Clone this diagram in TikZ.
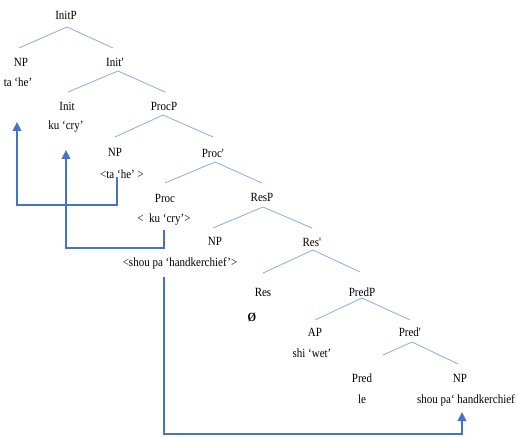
\documentclass[tikz,border=0pt]{standalone}
\usepackage{fontspec}
\setmainfont{Liberation Serif}[FakeStretch=0.88]
\usetikzlibrary{calc,arrows.meta}
\definecolor{branchblue}{HTML}{8FAADC}
\definecolor{moveblue}{HTML}{4472C4}
\begin{document}
\begin{tikzpicture}[x=1pt,y=-1pt,
  lbl/.style={inner sep=0pt,font=\fontsize{12.5}{14}\selectfont},
  branch/.style={draw=branchblue,line width=0.8pt},
  move/.style={draw=moveblue,line width=2.8pt,-{Triangle[length=9pt,width=8.5pt]}}]
\useasboundingbox (0,0) rectangle (517,438);

% category labels
\node[lbl] (InitP)  at (66,15)  {InitP};
\node[lbl] (NPa)    at (21,62)  {NP};
\node[lbl] (Initb)  at (115,62) {Init\textquotesingle};
\node[lbl] (Init)   at (67,106) {Init};
\node[lbl] (ProcP)  at (164,106){ProcP};
\node[lbl] (NPb)    at (115,152){NP};
\node[lbl] (Procb)  at (213,153){Proc\textquotesingle};
\node[lbl] (Proc)   at (165,198){Proc};
\node[lbl] (ResP)   at (262,197){ResP};
\node[lbl] (NPc)    at (215,241){NP};
\node[lbl] (Resb)   at (312,242){Res\textquotesingle};
\node[lbl] (Res)    at (263,292){Res};
\node[lbl] (PredP)  at (362,292){PredP};
\node[lbl] (AP)     at (315,332){AP};
\node[lbl] (Predb)  at (410,332){Pred\textquotesingle};
\node[lbl] (Pred)   at (362,378){Pred};
\node[lbl] (NPd)    at (460,378){NP};

% lexical material
\node[lbl] (wNPa)  at (18,82)   {ta ‘he’};
\node[lbl] (wInit) at (66,127)  {ku ‘cry’};
\node[lbl] (wNPb)  at (122,174) {<ta ‘he’ >};
\node[lbl] (wProc) at (164,220) {<\ \ ku ‘cry’>};
\node[lbl] (wNPc)  at (180,263) {<shou pa ‘handkerchief’>};
\node[lbl] (wRes)  at (252,317) {\textbf{Ø}};
\node[lbl] (wAP)   at (312,353) {shi ‘wet’};
\node[lbl] (wPred) at (362,399) {le};
\node[lbl] (wNPd)  at (466,400) {shou pa‘ handkerchief};

% branches
\draw[branch] ($(InitP)+(1,12)$) -- ($(NPa)+(-2,-14)$);
\draw[branch] ($(InitP)+(1,12)$) -- ($(Initb)+(-2,-14)$);
\draw[branch] ($(Initb)+(3,9)$) -- ($(Init)+(1,-14)$);
\draw[branch] ($(Initb)+(3,9)$) -- ($(ProcP)+(1,-14)$);
\draw[branch] ($(ProcP)+(-1,9)$) -- ($(NPb)+(0,-15)$);
\draw[branch] ($(ProcP)+(-1,9)$) -- ($(Procb)+(0,-16)$);
\draw[branch] ($(Procb)+(2,9)$) -- ($(Proc)+(0,-15)$);
\draw[branch] ($(Procb)+(2,9)$) -- ($(ResP)+(0,-14)$);
\draw[branch] ($(ResP)+(1,10)$) -- ($(NPc)+(-2,-13)$);
\draw[branch] ($(ResP)+(1,10)$) -- ($(Resb)+(0,-14)$);
\draw[branch] ($(Resb)+(1,8)$) -- ($(Res)+(0,-19)$);
\draw[branch] ($(Resb)+(1,8)$) -- ($(PredP)+(-2,-20)$);
\draw[branch] ($(PredP)+(0,6)$) -- ($(AP)+(0,-12)$);
\draw[branch] ($(PredP)+(0,6)$) -- ($(Predb)+(0,-12)$);
\draw[branch] ($(Predb)+(2,10)$) -- ($(Pred)+(21,-23)$);
\draw[branch] ($(Predb)+(2,10)$) -- ($(NPd)+(-2,-14)$);

% movement arrows
\draw[move] ($(wNPb)+(-5,3)$) -- ++(0,28) -| ($(wNPa)+(-1,40)$);
\draw[move] ($(wProc)+(0,10)$) -- ++(0,18) -| ($(wInit)+(0,23)$);
\draw[move] ($(wNPc)+(-16,14)$) -- ++(0,157) -| ($(wNPd)+(-4,12)$);
\end{tikzpicture}
\end{document}
